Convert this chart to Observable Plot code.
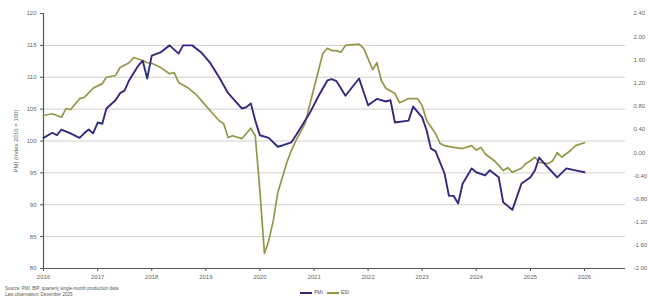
<!DOCTYPE html>
<html><head><meta charset="utf-8">
<script src="https://cdn.jsdelivr.net/npm/d3@7"></script>
<script src="https://cdn.jsdelivr.net/npm/@observablehq/plot@0.6"></script>
<style>
body{margin:0;background:#fff;font-family:"Liberation Sans",Arial,sans-serif;}
#wrap{position:relative;width:648px;height:297px;overflow:hidden;}
#foot{position:absolute;left:0;top:283px;width:648px;height:14px;}
#src{position:absolute;left:5px;top:3px;font-size:4.5px;line-height:5.5px;color:#555;}
#legend{position:absolute;left:300px;top:6px;font-size:5px;color:#555;display:flex;align-items:center;gap:4px;}
.sw{display:inline-block;width:12px;height:2px;margin-right:2px;vertical-align:middle;}
</style></head><body>
<div id="wrap"><div id="chart"></div>
<div id="foot"><div id="src">Source: PMI, BfP, quarterly single-month production data<br>Last observation: December 2025</div>
<div id="legend"><span><span class="sw" style="background:#2d2c7e"></span>PMI</span><span><span class="sw" style="background:#8d9a48"></span>ESI</span></div></div>
</div>
<script>
const pmiDates = ["2016-01","2016-03","2016-04","2016-05","2016-07","2016-09","2016-10","2016-11","2016-12","2017-01","2017-02","2017-03","2017-05","2017-06","2017-07","2017-08","2017-10","2017-11","2017-12","2018-01","2018-03","2018-05","2018-07","2018-08","2018-10","2018-12","2019-02","2019-04","2019-06","2019-09","2019-10","2019-11","2019-12","2020-01","2020-03","2020-05","2020-06","2020-08","2020-09","2020-12","2021-02","2021-04","2021-05","2021-06","2021-08","2021-10","2021-11","2022-01","2022-03","2022-05","2022-06","2022-07","2022-10","2022-11","2023-01","2023-02","2023-03","2023-04","2023-06","2023-07","2023-08","2023-09","2023-10","2023-12","2024-01","2024-03","2024-04","2024-06","2024-07","2024-09","2024-10","2024-11","2025-01","2025-02","2025-03","2025-05","2025-07","2025-09","2025-11","2026-01"];
const pmiValues = [100.5,101.3,100.9,101.8,101.2,100.5,101.2,101.8,101.2,102.9,102.7,105.1,106.4,107.5,107.9,109.5,111.8,112.6,109.8,113.4,113.9,115.0,113.7,115.0,115.0,113.9,112.2,110.0,107.5,105.1,105.3,105.9,103.2,100.9,100.5,99.1,99.3,99.8,100.9,104.3,107.1,109.5,109.7,109.4,107.1,108.9,109.8,105.6,106.6,106.2,106.4,102.9,103.2,105.4,103.7,101.6,98.8,98.4,94.9,91.4,91.4,90.2,93.3,95.7,95.1,94.6,95.4,94.3,90.4,89.2,91.2,93.3,94.3,95.4,97.4,95.8,94.3,95.7,95.4,95.1];

const esiDates = ["2016-01","2016-03","2016-05","2016-06","2016-07","2016-09","2016-10","2016-12","2017-02","2017-03","2017-05","2017-06","2017-08","2017-09","2017-11","2017-12","2018-01","2018-03","2018-05","2018-06","2018-07","2018-09","2018-11","2019-01","2019-04","2019-05","2019-06","2019-07","2019-09","2019-11","2019-12","2020-01","2020-02","2020-03","2020-04","2020-05","2020-06","2020-07","2020-08","2020-09","2020-11","2021-01","2021-03","2021-04","2021-05","2021-06","2021-07","2021-08","2021-11","2021-12","2022-01","2022-02","2022-03","2022-04","2022-05","2022-07","2022-08","2022-10","2022-12","2023-01","2023-02","2023-04","2023-05","2023-06","2023-08","2023-10","2023-12","2024-01","2024-02","2024-03","2024-05","2024-06","2024-07","2024-08","2024-09","2024-11","2024-12","2025-01","2025-02","2025-03","2025-05","2025-06","2025-07","2025-08","2025-10","2025-11","2026-01"];
const esiValues = [0.64,0.67,0.61,0.76,0.74,0.93,0.95,1.11,1.19,1.30,1.33,1.47,1.55,1.64,1.59,1.55,1.54,1.47,1.36,1.38,1.21,1.12,0.99,0.81,0.55,0.50,0.26,0.29,0.24,0.42,0.29,-0.65,-1.74,-1.52,-1.17,-0.69,-0.43,-0.17,0.04,0.21,0.50,1.12,1.71,1.80,1.76,1.76,1.73,1.85,1.87,1.80,1.62,1.43,1.55,1.24,1.11,1.02,0.86,0.93,0.93,0.81,0.55,0.33,0.16,0.12,0.09,0.07,0.12,0.04,0.09,-0.02,-0.14,-0.22,-0.31,-0.26,-0.34,-0.27,-0.19,-0.14,-0.08,-0.17,-0.19,-0.14,0.00,-0.08,0.04,0.12,0.17];

const yearLabels = [2016,2017,2018,2019,2020,2021,2022,2023,2024,2025,2026];
const leftTicks = [80,85,90,95,100,105,110,115,120];
const rightTicks = [-2.0,-1.6,-1.2,-0.8,-0.4,0.0,0.4,0.8,1.2,1.6,2.0,2.4];
const leftDomain = [80,120];
const rightDomain = [-2.0,2.4];

const parse = d3.utcParse("%Y-%m");
const toLeft = r => leftDomain[0] + (r - rightDomain[0]) * (leftDomain[1]-leftDomain[0]) / (rightDomain[1]-rightDomain[0]);
const fromLeft = v => rightDomain[0] + (v - leftDomain[0]) * (rightDomain[1]-rightDomain[0]) / (leftDomain[1]-leftDomain[0]);

const pmi = pmiDates.map((d,i) => ({date: parse(d), value: pmiValues[i]}));
const esi = esiDates.map((d,i) => ({date: parse(d), value: toLeft(esiValues[i])}));
const years = yearLabels.map(y => new Date(Date.UTC(y,0,1)));
const xd = [new Date(Date.UTC(2016,0,1)), new Date(Date.UTC(2026,9,5))];

const chart = Plot.plot({
  width: 648, height: 283,
  marginLeft: 43, marginRight: 23, marginTop: 13, marginBottom: 15,
  style: {fontSize: "6px", fontFamily: "Liberation Sans, Arial, sans-serif", color: "#666", background: "#fff"},
  x: {type: "utc", domain: xd},
  y: {domain: leftDomain},
  marks: [
    Plot.gridY(leftTicks.filter(t => t > 80 && t < 120), {stroke: "#cfcfcf", strokeOpacity: 1, strokeWidth: 1}),
    Plot.axisY(leftTicks, {anchor: "left", tickSize: 3, tickPadding: 4, stroke: "#555", label: "PMI (Index 2016 = 100)", labelAnchor: "center", labelArrow: "none", labelOffset: 30}),
    Plot.axisY(rightTicks.map(toLeft), {anchor: "right", tickSize: 0, tickPadding: 8, label: null, tickFormat: v => { const r = Math.round(fromLeft(v)*100)/100; return (r === 0 ? 0 : r).toFixed(2); }}),
    Plot.axisX(years, {tickSize: 3, tickPadding: 3, tickFormat: d3.utcFormat("%Y"), stroke: "#555", label: null}),
    Plot.ruleY([80], {stroke: "#555", strokeWidth: 1.2}),
    Plot.ruleX([xd[0]], {stroke: "#555", strokeWidth: 1.2}),
    Plot.line(esi, {x: "date", y: "value", stroke: "#8d9a48", strokeWidth: 1.7}),
    Plot.line(pmi, {x: "date", y: "value", stroke: "#2d2c7e", strokeWidth: 1.9})
  ]
});
document.getElementById("chart").appendChild(chart);
</script>
</body></html>
